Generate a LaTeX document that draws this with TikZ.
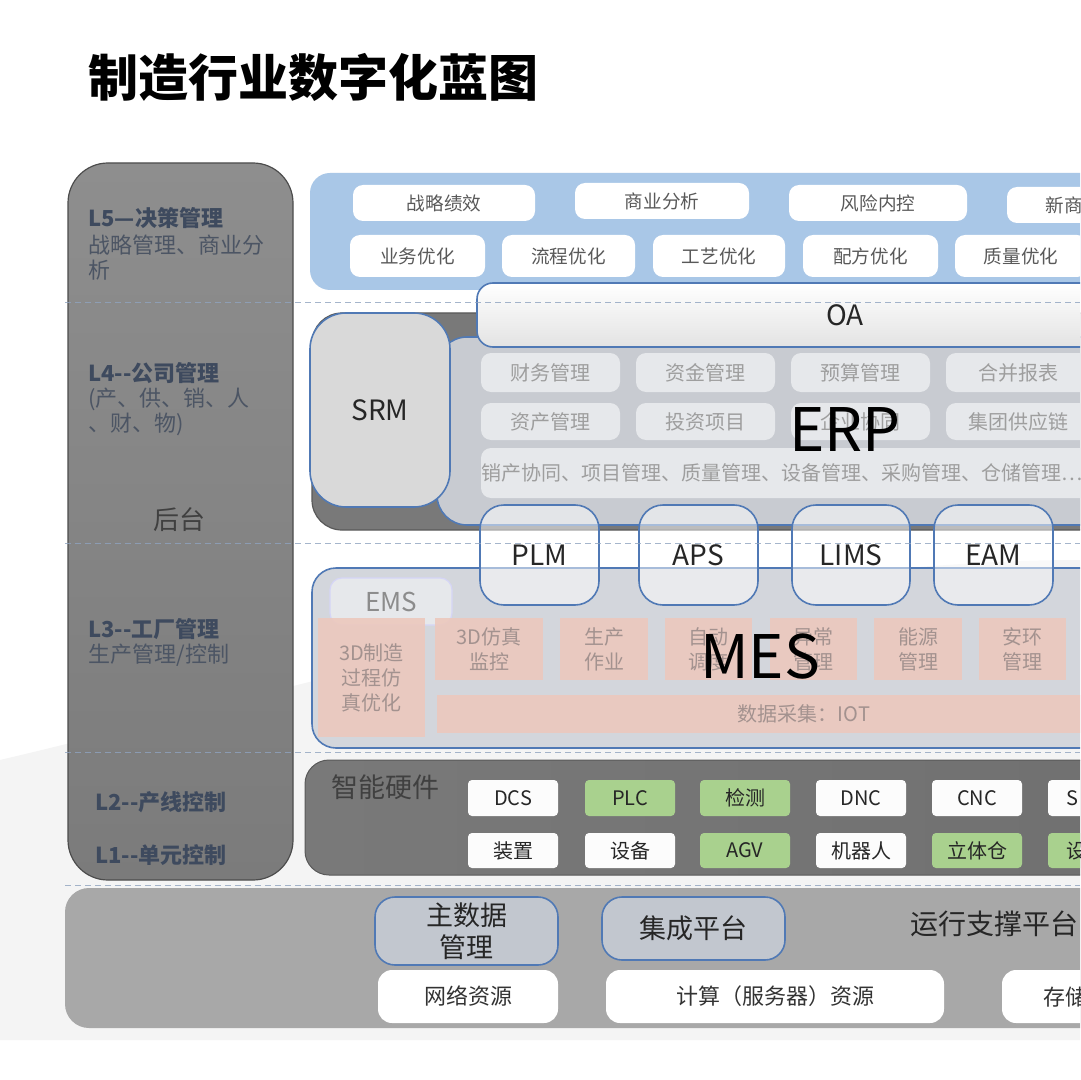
\documentclass[tikz,border=0pt]{standalone}
\usepackage{fontspec}
\setmainfont{Noto Sans CJK SC}
\usetikzlibrary{calc}
\definecolor{lbl}{HTML}{3E4A5E}
\definecolor{lbllight}{HTML}{4C5564}
\definecolor{paneltop}{HTML}{8E8E8E}
\definecolor{panelbot}{HTML}{7B7B7B}
\definecolor{bandblue}{HTML}{A9C7E7}
\definecolor{edgeblue}{HTML}{5079B5}
\definecolor{erpfill}{HTML}{C8CBD1}
\definecolor{itemfill}{HTML}{E6E8EB}
\definecolor{itemtext}{HTML}{9E9E9E}
\definecolor{mesfill}{HTML}{D3D6DC}
\definecolor{pinkfill}{HTML}{ECC8BD}
\definecolor{pinktext}{HTML}{A3928F}
\definecolor{greenfill}{HTML}{A9D18E}
\definecolor{dashc}{HTML}{8FA3BF}
\definecolor{mdfill}{HTML}{C2C7CF}
\newcommand\fsz[2]{\fontsize{#1}{#2}\selectfont}
\newcommand\mybox[8]{\path[#2] (#3,#4) rectangle (#5,#6); \node[#7] (#1) at ($(#3,#4)!0.5!(#5,#6)$) {#8};}
\begin{document}
\begin{tikzpicture}[x=0.5pt,y=-0.5pt,
  txt/.style={inner sep=0pt,align=center},
  lvlb/.style={txt,anchor=west,align=left,font=\fsz{11}{13}\bfseries,text=lbl},
  lvln/.style={txt,anchor=west,align=left,font=\fsz{11}{12.8},text=lbllight},
  wbox/.style={fill=white,rounded corners=5pt},
  wtext/.style={txt,font=\fsz{9.3}{11},text=black!65},
  erpitem/.style={fill=itemfill,rounded corners=5pt},
  erptext/.style={txt,font=\fsz{10}{12},text=itemtext},
  pink/.style={fill=pinkfill,opacity=0.9},
  pinktxt/.style={txt,font=\fsz{10}{12.5},text=pinktext},
  sysbox/.style={draw=edgeblue,line width=0.8pt,fill=white,fill opacity=0.5,rounded corners=12pt},
  systxt/.style={txt,font=\fsz{14}{16},text=black!85},
  hww/.style={fill=white!98!gray,rounded corners=2pt},
  hwg/.style={fill=greenfill,rounded corners=2pt},
  hwtxt/.style={txt,font=\fsz{10}{12},text=black!85},
  bluebox/.style={draw=edgeblue,line width=0.8pt,fill=mdfill,rounded corners=10pt},
  bluetxt/.style={txt,font=\fsz{13.5}{16},text=black!85},
  btxt/.style={txt,font=\fsz{11}{13},text=black!80},
  dl/.style={draw=dashc,dash pattern=on 3pt off 2pt,line width=0.5pt,opacity=0.8}
]
\useasboundingbox (0,0) rectangle (1080,1080);
\clip (0,0) rectangle (1080,1080);
\fill[white] (0,0) rectangle (1080,1080);
\fill[gray!9] (0,760) .. controls (300,690) and (700,560) .. (1080,560) -- (1080,1040) -- (0,1040) -- cycle;

% title
\node[txt,anchor=west,font=\fsz{25}{30}\bfseries] (title) at (88,77) {制造行业数字化蓝图};

% left panel
\path[draw=black!70,line width=0.6pt,top color=paneltop,bottom color=panelbot,rounded corners=20pt] (68,163) rectangle (293,880);
\node[lvlb] (l5) at (88,218) {L5—决策管理};
\node[lvln] (l5d) at (88,257.5) {战略管理、商业分\\析};
\node[lvlb] (l4) at (88,373) {L4-{}-公司管理};
\node[lvln] (l4d) at (88,412) {(产、供、销、人\\、财、物)};
\node[txt,font=\fsz{13}{15},text=black!75] (back) at (179,520) {后台};
\node[lvlb] (l3) at (88,629) {L3-{}-工厂管理};
\node[lvln] (l3d) at (88,655) {生产管理/控制};
\node[lvlb] (l2) at (95,802) {L2-{}-产线控制};
\node[lvlb] (l1) at (95,855) {L1-{}-单元控制};

% L5 band
\path[fill=bandblue,rounded corners=10pt] (310,173) rectangle (1140,290);
\mybox{zl}{wbox}{353}{185}{535}{221}{wtext}{战略绩效}
\mybox{sy}{wbox}{575}{183}{749}{219}{wtext}{商业分析}
\mybox{fx}{wbox}{789}{185}{967}{221}{wtext}{风险内控}
\path[wbox] (1007,187) rectangle (1140,223);
\node[wtext,anchor=west] (xs) at (1045,205) {新商};
\mybox{yw}{wbox}{350}{235}{485}{277}{wtext}{业务优化}
\mybox{lc}{wbox}{502}{235}{635}{277}{wtext}{流程优化}
\mybox{gy}{wbox}{653}{235}{785}{277}{wtext}{工艺优化}
\mybox{pf}{wbox}{803}{235}{938}{277}{wtext}{配方优化}
\mybox{zliang}{wbox}{955}{235}{1087}{277}{wtext}{质量优化}

% L4 dark
\path[fill=gray!95!black,draw=black!65,line width=0.6pt,rounded corners=15pt] (312,313) rectangle (1140,530);
\path[fill=erpfill,draw=edgeblue,line width=0.8pt,rounded corners=15pt] (437,337) rectangle (1140,525);
\mybox{srm}{fill=gray!30,draw=edgeblue,line width=0.8pt,rounded corners=18pt}{310}{313}{450}{507}{systxt}{SRM}
% OA
\mybox{oa}{top color=white,bottom color=gray!22,draw=edgeblue,line width=0.8pt,rounded corners=8pt}{477}{283}{1213}{347}{systxt}{OA}
% ERP items
\mybox{cw}{erpitem}{481}{353}{620}{392}{erptext}{财务管理}
\mybox{zj}{erpitem}{636}{353}{775}{392}{erptext}{资金管理}
\mybox{ys}{erpitem}{791}{353}{930}{392}{erptext}{预算管理}
\mybox{hb}{erpitem}{946}{353}{1090}{392}{erptext}{合并报表}
\mybox{zc}{erpitem}{481}{403}{620}{440}{erptext}{资产管理}
\mybox{tz}{erpitem}{636}{403}{775}{440}{erptext}{投资项目}
\mybox{qy}{erpitem}{791}{403}{930}{440}{erptext}{企业协同}
\mybox{jt}{erpitem}{946}{403}{1090}{440}{erptext}{集团供应链}
\path[erpitem] (481,448) rectangle (1140,498);
\node[erptext,anchor=west] (xc) at (481,473) {销产协同、项目管理、质量管理、设备管理、采购管理、仓储管理…};
\node[txt,font=\fsz{30}{34},text=black] (erp) at (845,430) {ERP};

% MES
\path[fill=mesfill,draw=edgeblue,line width=0.8pt,rounded corners=12pt] (312,568) rectangle (1140,748);
\mybox{ems}{fill=itemfill,draw=gray!35!blue!20,line width=0.6pt,rounded corners=6pt}{330}{578}{452}{625}{txt,font=\fsz{13}{15},text=black!45}{EMS}
\mybox{sd}{pink}{318}{618}{425}{737}{pinktxt}{3D制造\\过程仿\\真优化}
\mybox{fz}{pink}{435}{618}{543}{680}{pinktxt}{3D仿真\\监控}
\mybox{sc}{pink}{560}{618}{648}{680}{pinktxt}{生产\\作业}
\mybox{zd}{pink}{665}{618}{752}{680}{pinktxt}{自动\\调度}
\mybox{yc}{pink}{770}{618}{857}{680}{pinktxt}{异常\\管理}
\mybox{ny}{pink}{874}{618}{962}{680}{pinktxt}{能源\\管理}
\mybox{ah}{pink}{979}{618}{1066}{680}{pinktxt}{安环\\管理}
\path[pink] (437,695) rectangle (1170,733);
\node[pinktxt] (iot) at (804,714) {数据采集：IOT};
\node[txt,font=\fsz{30}{34},text=black] (mes) at (760,657) {MES};

% PLM etc.
\mybox{plm}{sysbox}{480}{505}{599}{605}{systxt}{PLM}
\mybox{aps}{sysbox}{639}{505}{758}{605}{systxt}{APS}
\mybox{lims}{sysbox}{792}{505}{910}{605}{systxt}{LIMS}
\mybox{eam}{sysbox}{934}{505}{1053}{605}{systxt}{EAM}

% hardware
\path[left color=gray!95!black,right color=gray!88!black,draw=gray!70!black,line width=0.5pt,rounded corners=12pt] (305,760) rectangle (1140,875);
\node[txt,font=\fsz{13.5}{16},text=black!75] (hw) at (385,787) {智能硬件};
\mybox{dcs}{hww}{468}{780}{558}{816}{hwtxt}{DCS}
\mybox{plc}{hwg}{585}{780}{675}{816}{hwtxt}{PLC}
\mybox{jc}{hwg}{700}{780}{790}{816}{hwtxt}{检测}
\mybox{dnc}{hww}{816}{780}{906}{816}{hwtxt}{DNC}
\mybox{cnc}{hww}{932}{780}{1022}{816}{hwtxt}{CNC}
\path[hww] (1048,780) rectangle (1140,816);
\node[hwtxt,anchor=west] (sx) at (1066,798) {S};
\mybox{zz}{hww}{468}{833}{558}{868}{hwtxt}{装置}
\mybox{sb}{hww}{585}{833}{675}{868}{hwtxt}{设备}
\mybox{agv}{hwg}{700}{833}{790}{868}{hwtxt}{AGV}
\mybox{jqr}{hww}{816}{833}{906}{868}{hwtxt}{机器人}
\mybox{ltc}{hwg}{932}{833}{1022}{868}{hwtxt}{立体仓}
\path[hwg] (1048,833) rectangle (1140,868);
\node[hwtxt,anchor=west] (sy2) at (1066,851) {设};

% bottom
\path[fill=gray!68,rounded corners=12pt] (65,888) rectangle (1140,1028);
\mybox{zsj}{bluebox}{375}{897}{558}{965}{bluetxt}{主数据\\管理}
\mybox{jcpt}{bluebox}{602}{897}{785}{960}{bluetxt}{集成平台}
\node[txt,anchor=west,font=\fsz{14}{16},text=black!85] (yx) at (910,924) {运行支撑平台};
\mybox{wl}{fill=white,rounded corners=7pt}{378}{970}{558}{1023}{btxt}{网络资源}
\mybox{js}{fill=white,rounded corners=7pt}{606}{970}{944}{1023}{btxt}{计算（服务器）资源}
\path[fill=white,rounded corners=7pt] (1002,970) rectangle (1140,1023);
\node[btxt,anchor=west] (cc) at (1043,997) {存储};

% dashed level lines
\foreach \yy/\nm in {303/da,543/db,752/dc,885/dd}{
  \coordinate (\nm1) at (65,\yy); \coordinate (\nm2) at (1080,\yy);
  \draw[dl] (\nm1) -- (\nm2);
}
\end{tikzpicture}
\end{document}
